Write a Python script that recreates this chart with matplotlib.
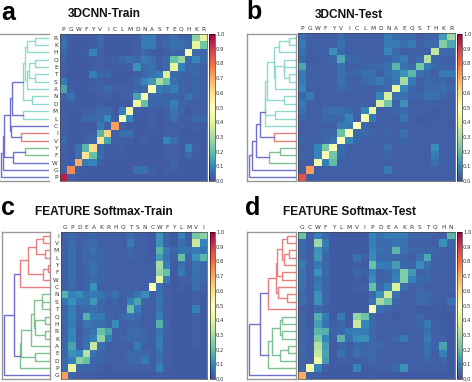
import numpy as np
import matplotlib
matplotlib.use('Agg')
import matplotlib.pyplot as plt
from matplotlib.colors import LinearSegmentedColormap

plt.rcParams['font.family'] = ['DejaVu Sans']

W, H = 472, 382

cols_a = list('PGWFYVICLMDNASTEQHKR')
rows_a = list('RKHQETSANDMLCIVYFWGP')
vals_a = [
    [5, 2, 2, 2, 2, 5, 2, 2, 2, 2, 3, 8, 8, 3, 4, 6, 4, 4, 25, 42],
    [7, 2, 2, 2, 3, 5, 2, 2, 2, 2, 3, 8, 8, 3, 5, 6, 6, 4, 40, 22],
    [5, 2, 2, 3, 10, 3, 2, 2, 2, 2, 3, 5, 3, 2, 3, 4, 4, 48, 5, 4],
    [4, 2, 2, 2, 3, 3, 2, 3, 5, 6, 4, 8, 6, 3, 5, 20, 28, 5, 10, 5],
    [3, 2, 2, 2, 3, 3, 2, 2, 3, 3, 12, 5, 6, 3, 5, 42, 9, 4, 4, 3],
    [3, 2, 2, 2, 9, 4, 4, 2, 2, 2, 3, 4, 6, 8, 38, 5, 4, 3, 5, 3],
    [8, 2, 2, 2, 3, 3, 2, 2, 2, 3, 5, 10, 13, 30, 20, 6, 4, 3, 4, 3],
    [15, 3, 2, 2, 3, 3, 5, 3, 3, 3, 4, 5, 46, 8, 6, 9, 4, 3, 4, 3],
    [4, 6, 2, 2, 2, 3, 3, 2, 3, 3, 15, 48, 5, 5, 4, 4, 3, 7, 4, 3],
    [3, 3, 2, 2, 2, 3, 2, 2, 2, 2, 43, 20, 4, 4, 4, 9, 4, 3, 3, 3],
    [3, 2, 2, 3, 3, 5, 5, 2, 9, 44, 3, 2, 3, 2, 3, 7, 4, 2, 3, 3],
    [3, 2, 2, 5, 5, 5, 11, 3, 46, 10, 2, 2, 3, 2, 3, 6, 3, 3, 5, 5],
    [3, 2, 2, 2, 2, 8, 3, 72, 3, 2, 2, 2, 3, 2, 3, 3, 3, 2, 3, 2],
    [3, 2, 2, 3, 3, 18, 62, 3, 6, 6, 2, 2, 2, 2, 3, 3, 2, 2, 2, 2],
    [5, 2, 2, 3, 4, 58, 15, 3, 3, 3, 2, 3, 2, 2, 10, 6, 3, 2, 3, 2],
    [3, 2, 6, 18, 60, 4, 3, 2, 3, 2, 2, 2, 2, 2, 3, 3, 2, 10, 3, 2],
    [3, 2, 6, 58, 20, 5, 3, 2, 3, 2, 2, 2, 2, 2, 3, 3, 2, 5, 3, 2],
    [3, 3, 70, 8, 10, 3, 2, 2, 2, 2, 2, 2, 2, 2, 2, 4, 2, 2, 2, 2],
    [3, 75, 3, 2, 2, 2, 2, 2, 2, 2, 6, 6, 3, 2, 3, 3, 2, 2, 2, 2],
    [95, 3, 2, 2, 2, 2, 2, 2, 2, 2, 2, 2, 2, 2, 2, 2, 2, 2, 2, 2],
]

cols_b = list('PGWFYVICLMDNAEQSTHKR')
rows_b = list('RKHTSQEANDMLCIVYFWGP')
vals_b = [
    [6, 3, 3, 3, 3, 5, 3, 3, 3, 3, 3, 8, 5, 5, 5, 3, 4, 4, 14, 28],
    [8, 3, 3, 3, 3, 6, 3, 3, 3, 3, 3, 8, 8, 6, 8, 3, 5, 5, 24, 16],
    [6, 3, 3, 3, 12, 5, 3, 3, 3, 3, 3, 10, 5, 3, 3, 3, 3, 34, 5, 5],
    [5, 2, 3, 3, 4, 16, 4, 5, 3, 3, 3, 4, 6, 8, 3, 5, 32, 4, 3, 3],
    [15, 3, 3, 3, 3, 6, 3, 3, 4, 4, 4, 6, 18, 6, 5, 22, 8, 5, 4, 3],
    [8, 3, 3, 3, 3, 6, 4, 4, 6, 6, 3, 6, 8, 12, 18, 6, 5, 3, 8, 8],
    [8, 3, 3, 3, 3, 7, 3, 3, 5, 6, 8, 5, 8, 30, 8, 3, 5, 4, 5, 3],
    [10, 3, 3, 3, 3, 5, 4, 3, 3, 3, 4, 5, 42, 10, 5, 3, 5, 5, 6, 4],
    [5, 8, 3, 3, 3, 3, 3, 3, 3, 3, 10, 38, 6, 6, 4, 4, 6, 6, 4, 3],
    [8, 3, 3, 3, 3, 3, 3, 3, 3, 3, 38, 22, 4, 12, 3, 3, 3, 3, 3, 3],
    [6, 3, 3, 5, 6, 6, 5, 3, 10, 42, 3, 3, 4, 5, 3, 3, 3, 2, 3, 3],
    [4, 3, 3, 5, 4, 5, 10, 3, 46, 8, 3, 3, 3, 7, 3, 2, 2, 3, 3, 3],
    [3, 3, 3, 3, 3, 8, 8, 50, 5, 3, 3, 3, 3, 3, 3, 3, 3, 3, 3, 2],
    [3, 3, 3, 4, 4, 20, 48, 5, 5, 4, 3, 4, 3, 6, 3, 3, 3, 3, 3, 3],
    [4, 3, 3, 4, 6, 50, 10, 4, 3, 3, 3, 3, 3, 4, 3, 3, 3, 3, 3, 3],
    [3, 3, 10, 22, 48, 5, 3, 3, 3, 3, 3, 6, 3, 3, 3, 3, 3, 11, 3, 3],
    [4, 3, 10, 48, 22, 5, 3, 3, 3, 3, 3, 4, 3, 3, 3, 3, 3, 8, 3, 3],
    [3, 3, 46, 9, 19, 3, 3, 3, 3, 3, 3, 3, 3, 3, 3, 3, 3, 6, 3, 3],
    [3, 72, 3, 3, 3, 3, 3, 3, 3, 3, 3, 8, 3, 3, 3, 3, 3, 3, 3, 3],
    [85, 3, 3, 3, 3, 3, 3, 3, 3, 3, 3, 3, 3, 3, 3, 3, 3, 3, 3, 3],
]

cols_c = list('GPDEAKRHQTSNCWFYLMVI')
rows_c = list('IVMLYFWCNSTQHRKAEDPG')
vals_c = [
    [3, 5, 3, 3, 4, 3, 3, 3, 3, 5, 3, 3, 2, 12, 4, 2, 9, 3, 22, 25],
    [3, 5, 3, 4, 5, 3, 3, 3, 3, 8, 3, 3, 2, 12, 4, 2, 6, 3, 35, 10],
    [3, 6, 3, 5, 6, 4, 3, 3, 3, 4, 3, 3, 2, 18, 8, 4, 7, 7, 8, 7],
    [3, 6, 3, 5, 5, 4, 3, 3, 3, 4, 3, 3, 2, 14, 7, 3, 20, 4, 12, 18],
    [3, 6, 3, 4, 6, 4, 3, 3, 3, 3, 3, 3, 3, 30, 9, 2, 6, 3, 7, 5],
    [3, 6, 3, 4, 6, 4, 3, 3, 3, 3, 3, 3, 3, 27, 20, 2, 8, 3, 6, 5],
    [3, 6, 3, 4, 5, 4, 3, 3, 3, 3, 3, 3, 3, 42, 8, 2, 3, 3, 6, 4],
    [3, 5, 3, 4, 12, 3, 3, 3, 3, 3, 3, 3, 47, 6, 3, 2, 3, 2, 6, 3],
    [17, 9, 11, 7, 8, 7, 4, 7, 3, 4, 7, 11, 3, 6, 3, 2, 2, 2, 3, 2],
    [7, 12, 7, 7, 13, 5, 3, 4, 3, 9, 15, 4, 3, 7, 3, 2, 2, 2, 3, 2],
    [4, 8, 4, 5, 6, 4, 3, 3, 3, 20, 8, 3, 3, 6, 3, 2, 2, 2, 9, 2],
    [4, 9, 4, 17, 8, 8, 4, 3, 5, 7, 5, 3, 3, 9, 3, 2, 2, 2, 3, 2],
    [5, 8, 3, 7, 6, 6, 4, 11, 3, 4, 4, 3, 3, 17, 4, 2, 2, 2, 3, 2],
    [4, 10, 2, 5, 7, 20, 15, 3, 3, 5, 5, 4, 3, 7, 3, 2, 2, 2, 3, 2],
    [4, 10, 3, 6, 9, 26, 9, 3, 4, 5, 5, 4, 3, 8, 3, 2, 2, 2, 3, 2],
    [5, 15, 3, 7, 35, 6, 3, 3, 3, 3, 8, 3, 3, 8, 3, 2, 2, 2, 3, 2],
    [4, 12, 10, 32, 7, 4, 3, 3, 3, 5, 5, 5, 3, 6, 3, 2, 2, 2, 2, 2],
    [5, 9, 25, 20, 4, 4, 3, 3, 3, 5, 5, 8, 3, 6, 3, 2, 2, 2, 2, 2],
    [5, 42, 5, 4, 4, 3, 2, 3, 3, 3, 3, 3, 3, 9, 3, 2, 2, 2, 2, 2],
    [72, 4, 3, 3, 3, 2, 2, 2, 2, 2, 2, 2, 2, 3, 2, 2, 2, 2, 2, 2],
]

cols_d = list('GCWFYLMVIPDEAKRSTQHN')
rows_d = list('NHQTSRKAEDPIVMLYFWCG')
vals_d = [
    [20, 3, 9, 5, 2, 2, 2, 2, 2, 10, 6, 8, 8, 8, 4, 4, 4, 3, 3, 18],
    [5, 3, 28, 8, 2, 2, 2, 2, 2, 9, 5, 5, 7, 7, 3, 3, 3, 3, 12, 4],
    [5, 3, 12, 6, 2, 2, 2, 2, 2, 10, 6, 5, 18, 6, 4, 4, 4, 4, 3, 3],
    [5, 3, 13, 4, 2, 2, 2, 7, 3, 11, 5, 5, 5, 4, 3, 6, 16, 3, 3, 3],
    [8, 3, 8, 4, 2, 2, 2, 3, 2, 20, 8, 8, 14, 5, 4, 11, 6, 3, 3, 3],
    [6, 3, 12, 5, 2, 2, 2, 5, 3, 9, 3, 5, 8, 24, 13, 3, 4, 3, 3, 3],
    [7, 3, 7, 4, 2, 2, 2, 3, 2, 11, 3, 4, 9, 24, 9, 5, 5, 3, 3, 3],
    [6, 3, 8, 4, 2, 2, 2, 3, 3, 20, 5, 9, 38, 6, 3, 4, 3, 3, 3, 3],
    [5, 3, 12, 4, 2, 2, 2, 2, 2, 5, 12, 36, 6, 3, 3, 5, 5, 3, 3, 2],
    [6, 3, 12, 4, 2, 2, 2, 2, 2, 7, 30, 21, 4, 3, 3, 5, 5, 3, 3, 7],
    [3, 2, 5, 3, 2, 2, 2, 2, 2, 47, 6, 4, 3, 3, 3, 2, 2, 3, 2, 3],
    [4, 2, 17, 8, 2, 8, 2, 27, 21, 5, 3, 3, 2, 3, 3, 4, 3, 3, 2, 2],
    [4, 2, 14, 7, 3, 5, 2, 35, 10, 5, 3, 3, 3, 3, 3, 4, 8, 3, 3, 2],
    [4, 3, 18, 17, 4, 5, 8, 9, 8, 5, 3, 3, 3, 3, 3, 3, 6, 3, 3, 2],
    [4, 3, 23, 10, 3, 18, 6, 11, 12, 5, 3, 3, 5, 8, 3, 3, 8, 3, 3, 2],
    [5, 3, 32, 14, 2, 4, 3, 5, 4, 5, 4, 3, 3, 3, 3, 3, 6, 4, 15, 2],
    [4, 3, 35, 15, 2, 7, 3, 6, 4, 5, 3, 3, 3, 3, 3, 3, 6, 3, 9, 2],
    [4, 3, 43, 14, 2, 3, 3, 3, 3, 5, 3, 3, 3, 3, 3, 3, 4, 3, 4, 2],
    [4, 45, 10, 3, 2, 2, 2, 10, 2, 3, 3, 3, 5, 12, 3, 3, 3, 3, 3, 2],
    [70, 3, 3, 2, 2, 2, 2, 2, 2, 3, 2, 2, 2, 2, 2, 2, 2, 2, 2, 2],
]

# dendrogram merges: (child, child, x in reference pixels, colour)
# children 0-19 are rows top to bottom, 20+ are earlier merges
CY, RD, GR, BL = '#8fd9d0', '#ea7f7f', '#7fc08f', '#7070cf'
tree_a = [
    (0, 1, 35, CY), (20, 2, 27, CY), (3, 4, 35, CY), (5, 6, 35, CY),
    (22, 23, 29, CY), (24, 7, 27, CY), (21, 25, 25, CY), (8, 9, 32, CY),
    (26, 27, 23, CY), (10, 11, 23, CY), (28, 29, 12, BL), (13, 14, 21, RD),
    (12, 31, 11, BL), (30, 32, 10, BL), (15, 16, 25, GR), (34, 17, 13, BL),
    (33, 35, 4, BL), (36, 18, 3, BL), (37, 19, 1.5, BL),
]
tree_b = [
    (0, 1, 42, CY), (20, 2, 32, CY), (5, 6, 42, CY), (4, 22, 37, CY),
    (3, 23, 37, CY), (24, 7, 28, CY), (21, 25, 27, CY), (8, 9, 37, CY),
    (26, 27, 20, CY), (10, 11, 28, CY), (28, 29, 18, CY), (30, 12, 18, CY),
    (13, 14, 27, RD), (31, 32, 13, BL), (15, 16, 33, GR), (34, 17, 22, GR),
    (33, 35, 9, BL), (36, 18, 5, BL), (37, 19, 2, BL),
]
tree_c = [
    (0, 1, 41, RD), (2, 3, 43, RD), (4, 5, 46, RD), (22, 6, 41, RD),
    (20, 21, 34, RD), (24, 23, 26, RD), (25, 7, 18, RD), (9, 10, 40, GR),
    (8, 27, 40, GR), (11, 12, 43, GR), (13, 14, 43, GR), (29, 30, 33, GR),
    (28, 31, 32, GR), (32, 15, 29, GR), (16, 17, 33, GR), (33, 34, 19, GR),
    (35, 18, 18, GR), (26, 36, 12, BL), (37, 19, 2, BL),
]
tree_d = [
    (0, 1, 40, RD), (2, 3, 42, RD), (21, 4, 37, RD), (20, 22, 35, RD),
    (5, 6, 35, RD), (23, 24, 30, RD), (8, 9, 40, RD), (7, 26, 31, RD),
    (25, 27, 29, RD), (28, 10, 21, RD), (11, 12, 35, GR), (13, 14, 35, GR),
    (30, 31, 33, GR), (15, 16, 41, GR), (33, 17, 33, GR), (32, 34, 25, GR),
    (35, 18, 21, GR), (29, 36, 13, BL), (37, 19, 2, BL),
]

ticks_cb = np.arange(0, 1.01, 0.1)

spec = [plt.cm.Spectral_r(i / 10.0) for i in range(11)]
spec[0] = '#45509f'
heat = LinearSegmentedColormap.from_list('heat', spec)


def px_axes(fig, x0, y0, x1, y1):
    return fig.add_axes([x0 / W, 1 - y1 / H, (x1 - x0) / W, (y1 - y0) / H])


def draw_tree(ax, tree, color_frame, show_left):
    right = ax.get_xlim()[1]
    pos = {i: (right, i + 0.5) for i in range(20)}
    node = 20
    for a, b, h, c in tree:
        xa, ya = pos[a]
        xb, yb = pos[b]
        ax.plot([xa, h, h, xb], [ya, ya, yb, yb], color=c, lw=1.0,
                solid_joinstyle='miter')
        pos[node] = (h, (ya + yb) / 2)
        node += 1
    ax.set_xticks([])
    ax.set_yticks([])
    for s in ax.spines.values():
        s.set_color(color_frame)
        s.set_linewidth(1.0)
    ax.spines['left'].set_visible(show_left)
    ax.spines['right'].set_visible(show_left)


def panel(fig, letter, lx, ly, title, tx, ty, vals, cols, rows, tree, box, tbox, cbox, show_left=True):
    ax = px_axes(fig, *box)
    im = ax.imshow(np.array(vals) / 100.0, cmap=heat, vmin=0, vmax=1,
                   aspect='auto', interpolation='nearest')
    ax.set_xticks(np.arange(20))
    ax.set_xticklabels(cols)
    ax.set_yticks(np.arange(20))
    ax.set_yticklabels(rows)
    ax.xaxis.tick_top()
    ax.tick_params(length=0, labelsize=4.2, pad=1.6, colors='#333333')
    for s in ax.spines.values():
        s.set_linewidth(0.5)
        s.set_color('#444444')

    cax = px_axes(fig, *cbox)
    cb = fig.colorbar(im, cax=cax, ticks=ticks_cb)
    cb.ax.tick_params(length=0, labelsize=3.8, pad=0.8, colors='#333333')
    cb.outline.set_linewidth(0.4)
    cb.ax.set_yticklabels(['%.1f' % t for t in ticks_cb])

    d = px_axes(fig, *tbox)
    d.set_xlim(0, tbox[2] - tbox[0])
    d.set_ylim(20, 0)
    draw_tree(d, tree, '#999999', show_left)
    d.set_xlim(0, tbox[2] - tbox[0])
    d.set_ylim(20, 0)

    fig.text(lx / W, 1 - ly / H, letter, fontsize=18, fontweight='bold',
             family='Liberation Sans', ha='left', va='baseline', color='black')
    fig.text(tx / W, 1 - ty / H, title, fontsize=8.6, fontweight='bold',
             family='Liberation Sans', ha='left', va='baseline', color='#111111')


fig = plt.figure(figsize=(W / 100, H / 100), dpi=100)

panel(fig, 'a', 1, 20, '3DCNN-Train', 68, 17, vals_a, cols_a, rows_a, tree_a,
      (60, 34, 207, 181), (0, 34, 49, 181), (209, 34, 215, 181), show_left=False)
panel(fig, 'b', 246, 19, '3DCNN-Test', 315, 18, vals_b, cols_b, rows_b, tree_b,
      (298, 33, 455, 181), (247, 34, 296, 181), (457, 34, 462, 181))
panel(fig, 'c', 1, 215, 'FEATURE Softmax-Train', 35, 215, vals_c, cols_c, rows_c, tree_c,
      (61, 232, 207, 379), (2, 232, 50, 379), (210, 232, 215, 379))
panel(fig, 'd', 245, 215, 'FEATURE Softmax-Test', 283, 215, vals_d, cols_d, rows_d, tree_d,
      (298, 232, 455, 379), (247, 232, 296, 379), (457, 232, 462, 379))

fig.savefig('out.png', dpi=100)
